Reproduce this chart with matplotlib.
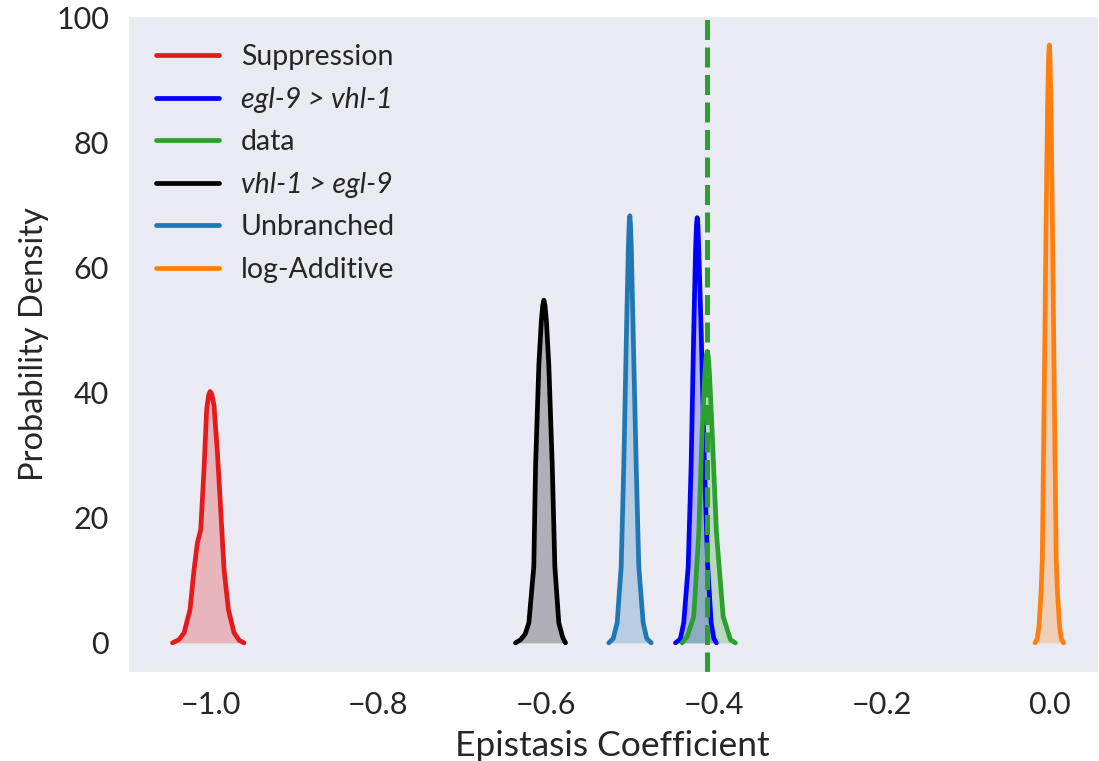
import numpy as np
import matplotlib
matplotlib.use("Agg")
import matplotlib.pyplot as plt
import seaborn as sns

sns.set_style("dark")
plt.rcParams['font.family'] = ['Lato', 'DejaVu Sans']

# curves (x = epistasis coefficient, y = density)
supp_x = [-1.0456, -1.0380, -1.0318, -1.0247, -1.0199, -1.0159, -1.0119, -1.0080, -1.0048,
          -1.0025, -1.0008, -0.9988, -0.9961, -0.9920, -0.9881, -0.9841, -0.9789,
          -0.9722, -0.9660, -0.9603]
supp_y = [0, 0.5, 1.6, 5.3, 11.7, 16.0, 18.1, 27.8, 37.4,
          39.6, 40.2, 39.8, 38.0, 30.4, 21.3, 11.7, 5.3,
          1.6, 0.4, 0]

egl_x = [-0.4458, -0.4400, -0.4359, -0.4306, -0.4271, -0.4240, -0.4218, -0.4207, -0.4199,
         -0.4190, -0.4180, -0.4151, -0.4112, -0.4073, -0.4032, -0.4000, -0.3969]
egl_y = [0, 0.6, 3.2, 12.2, 28.3, 49.7, 63.0, 66.8, 68.0,
         66.8, 63.0, 49.7, 28.3, 12.2, 3.2, 0.7, 0]

data_x = [-0.4378, -0.4318, -0.4240, -0.4180, -0.4140, -0.4108, -0.4092, -0.4080,
          -0.4066, -0.4052, -0.4020, -0.3969, -0.3889, -0.3802, -0.3743]
data_y = [0, 1.0, 4.2, 17.6, 33.7, 43.0, 45.8, 46.6, 45.8, 43.0, 33.7, 17.6, 4.2, 0.5, 0]

vhl_x = [-0.6365, -0.6305, -0.6250, -0.6206, -0.6147, -0.6126, -0.6087, -0.6057, -0.6040,
         -0.6027, -0.6014, -0.5997, -0.5968, -0.5927, -0.5896, -0.5849, -0.5805, -0.5789, -0.5769]
vhl_y = [0, 0.5, 1.4, 3.2, 12.2, 28.3, 44.4, 51.5, 54.0,
         54.8, 54.0, 51.5, 44.4, 28.3, 12.2, 3.2, 1.0, 0.5, 0]

unbr_x = [-0.5253, -0.5200, -0.5153, -0.5105, -0.5074, -0.5042, -0.5020, -0.5010, -0.5002,
          -0.4994, -0.4984, -0.4962, -0.4926, -0.4895, -0.4843, -0.4800, -0.4747]
unbr_y = [0, 0.7, 3.2, 12.2, 28.3, 49.7, 63.0, 66.9, 68.3,
          66.9, 63.0, 49.7, 28.3, 12.2, 3.2, 0.7, 0]

add_x = [-0.0170, -0.0145, -0.0123, -0.0098, -0.0083, -0.0060, -0.0039, -0.0021, -0.0009, 0.0,
         0.0009, 0.0021, 0.0039, 0.0060, 0.0083, 0.0098, 0.0123, 0.0145, 0.0170]
add_y = [0, 0.6, 2.6, 8.0, 13.3, 40.0, 66.0, 85.0, 93.5, 95.6,
         93.5, 85.0, 66.0, 40.0, 13.3, 8.0, 2.6, 0.6, 0]

data_mean = -0.4076

series = [
    (supp_x, supp_y, '#e41a1c', 'Suppression', False),
    (egl_x, egl_y, '#0000ff', 'egl-9 > vhl-1', True),
    (data_x, data_y, '#2ca02c', 'data', False),
    (vhl_x, vhl_y, 'black', 'vhl-1 > egl-9', True),
    (unbr_x, unbr_y, '#1f77b4', 'Unbranched', False),
    (add_x, add_y, '#ff7f0e', 'log-Additive', False),
]

fig = plt.figure(figsize=(10.99, 7.61), dpi=100)
ax = fig.add_axes([0.1162, 0.1166, 0.8828, 0.8628])

for xs, ys, col, lab, ital in series:
    ax.plot(xs, ys, color=col, lw=3.4, label=lab, solid_capstyle='round',
            solid_joinstyle='round')
    ax.fill_between(xs, ys, color=col, alpha=0.25, lw=0)

ax.axvline(data_mean, color='#2ca02c', lw=3.6, ls=(0, (4.0, 1.5)))

ax.set_xlim(-1.099, 0.058)
ax.set_ylim(-4.7, 100.3)
ax.set_xticks([-1.0, -0.8, -0.6, -0.4, -0.2, 0.0])
ax.set_yticks([0, 20, 40, 60, 80, 100])
ax.tick_params(labelsize=22, colors='.15', pad=10)
ax.set_xlabel('Epistasis Coefficient', fontsize=25.5, color='.15', labelpad=8)
ax.set_ylabel('Probability Density', fontsize=23.5, color='.15', labelpad=5)

leg = ax.legend(loc='upper left', fontsize=20.5, frameon=False, handlelength=2.2,
                handletextpad=0.77, labelspacing=0.58, borderaxespad=0.6)
for txt, s in zip(leg.get_texts(), series):
    txt.set_color('.15')
    if s[4]:
        txt.set_fontstyle('italic')

fig.savefig('out.png', dpi=100)
